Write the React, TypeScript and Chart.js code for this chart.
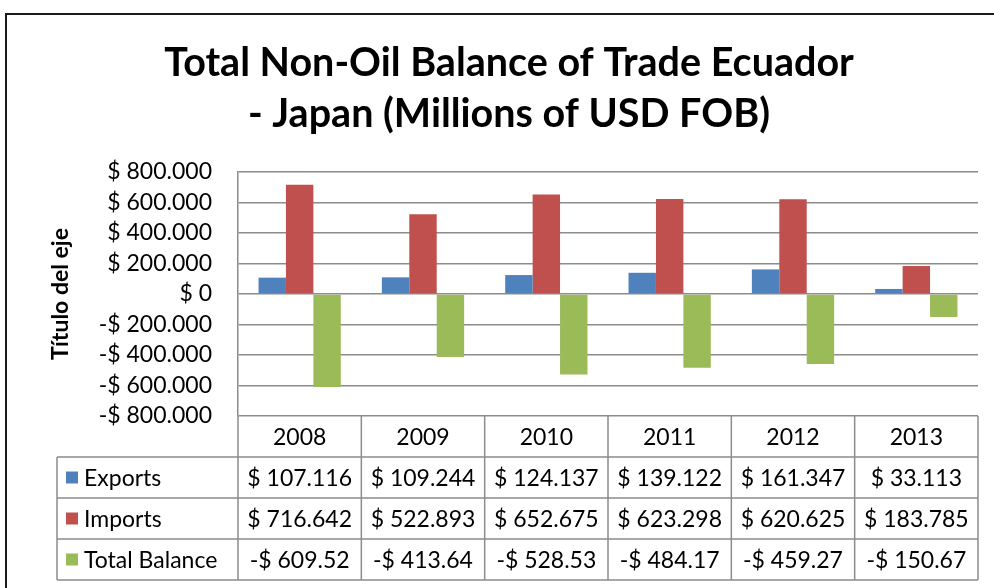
import React, { useEffect, useRef } from "react";
import { Chart, registerables } from "chart.js";

Chart.register(...registerables);

const categories = ["2008", "2009", "2010", "2011", "2012", "2013"];
const exportsVals = [107.116, 109.244, 124.137, 139.122, 161.347, 33.113];
const importsVals = [716.642, 522.893, 652.675, 623.298, 620.625, 183.785];
const balanceVals = [-609.52, -413.64, -528.53, -484.17, -459.27, -150.67];
const seriesNames = ["Exports", "Imports", "Total Balance"];
const seriesColors = ["#4F81BD", "#C0504D", "#9BBB59"];
const titleLines = ["Total Non-Oil Balance of Trade Ecuador", "- Japan (Millions of USD FOB)"];
const axisTitle = "Título del eje";

const FONT = "Lato, 'Open Sans', sans-serif";
const GRID = "#8c8c8c";

const fmtExp = (v: number) => "$ " + v.toFixed(3);
const fmtBal = (v: number) => (v < 0 ? "-$ " : "$ ") + Math.abs(v).toFixed(2);
const fmtTick = (v: number) =>
  v === 0 ? "$ 0" : (v < 0 ? "-$ " : "$ ") + Math.abs(v) + ".000";

const tablePlugin = {
  id: "tablePlugin",
  afterDraw(chart: any) {
    const ctx = chart.ctx as CanvasRenderingContext2D;
    const area = chart.chartArea;
    const left = area.left;
    const right = area.right;
    const top = area.bottom;
    const rowH = 41;
    const legendLeft = 57;
    const n = categories.length;
    const colW = (right - left) / n;

    ctx.save();
    // outer frame
    ctx.strokeStyle = "#1a1a1a";
    ctx.lineWidth = 2;
    ctx.strokeRect(6, 14, 1100, 700);

    // title
    ctx.fillStyle = "#000";
    ctx.font = `bold 39.5px ${FONT}`;
    ctx.textAlign = "center";
    ctx.textBaseline = "alphabetic";
    ctx.fillText(titleLines[0], 509, 76);
    ctx.fillText(titleLines[1], 509, 127);

    // table grid
    ctx.strokeStyle = GRID;
    ctx.lineWidth = 1.5;
    const bottom = top + rowH * 4;
    ctx.beginPath();
    for (let i = 0; i <= n; i++) {
      const x = left + i * colW;
      ctx.moveTo(x, top);
      ctx.lineTo(x, bottom);
    }
    ctx.moveTo(legendLeft, top + rowH);
    ctx.lineTo(legendLeft, bottom);
    for (let r = 1; r <= 4; r++) {
      ctx.moveTo(legendLeft, top + r * rowH);
      ctx.lineTo(right, top + r * rowH);
    }
    ctx.stroke();

    ctx.fillStyle = "#000";
    ctx.font = `23px ${FONT}`;
    ctx.textBaseline = "middle";
    ctx.textAlign = "center";
    const xs = chart.scales.x;
    categories.forEach((c, i) => {
      const cx = xs.getPixelForValue(i);
      ctx.fillText(c, cx, top + rowH / 2 + 1);
    });
    const rows = [
      exportsVals.map(fmtExp),
      importsVals.map(fmtExp),
      balanceVals.map(fmtBal),
    ];
    rows.forEach((row, r) => {
      const cy = top + rowH * (r + 1) + rowH / 2 + 1;
      row.forEach((t, i) => {
        ctx.fillText(t, xs.getPixelForValue(i), cy);
      });
      ctx.fillStyle = seriesColors[r];
      ctx.fillRect(66, cy - 7, 12, 12);
      ctx.fillStyle = "#000";
      ctx.textAlign = "left";
      ctx.fillText(seriesNames[r], 84, cy);
      ctx.textAlign = "center";
    });
    ctx.restore();
  },
};

export default function App() {
  const ref = useRef<HTMLCanvasElement>(null);
  useEffect(() => {
    if (!ref.current) return;
    const chart = new Chart(ref.current, {
      type: "bar",
      data: {
        labels: categories,
        datasets: [exportsVals, importsVals, balanceVals].map((d, i) => ({
          label: seriesNames[i],
          data: d,
          backgroundColor: seriesColors[i],
          borderWidth: 0,
          categoryPercentage: 0.667,
          barPercentage: 1,
        })),
      },
      options: {
        responsive: false,
        animation: false,
        devicePixelRatio: 1,
        layout: { padding: { top: 172, right: 16, bottom: 172, left: 43 } },
        plugins: {
          legend: { display: false },
          title: { display: false },
          tooltip: { enabled: false },
        },
        scales: {
          x: { display: false },
          y: {
            min: -800,
            max: 800,
            afterFit: (s: any) => {
              s.width = 195;
            },
            ticks: {
              stepSize: 200,
              autoSkip: false,
              padding: 26,
              color: "#000",
              font: { family: FONT, size: 23, lineHeight: 1 },
              callback: (v: any) => fmtTick(Number(v)),
            },
            grid: { color: GRID, lineWidth: 1.5, drawTicks: false },
            border: { color: GRID, width: 1.5 },
            title: {
              display: true,
              text: axisTitle,
              color: "#000",
              font: { family: FONT, size: 23, weight: "bold" },
              padding: { top: 4, bottom: 4 },
            },
          },
        },
      },
      plugins: [tablePlugin],
    });
    return () => chart.destroy();
  }, []);
  return (
    <div style={{ position: "absolute", left: 0, top: 0, width: 994, height: 588, background: "#fff" }}>
      <canvas ref={ref} width={994} height={588} style={{ display: "block" }} />
    </div>
  );
}
